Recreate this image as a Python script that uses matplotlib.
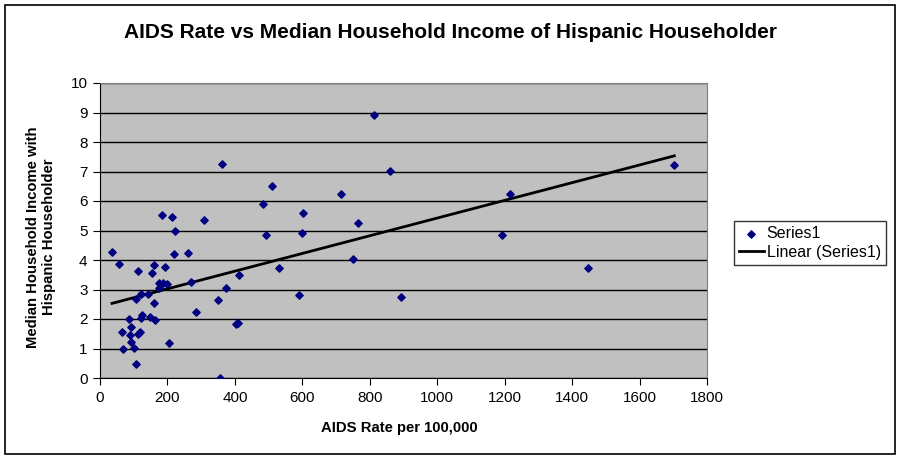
# AIDS rate vs median household income scatter with linear trendline
import numpy as np
import matplotlib.pyplot as plt
from matplotlib.patches import Rectangle

plt.rcParams['font.family'] = ['Liberation Sans', 'DejaVu Sans']

# Data
aids_rate = [35.7, 56.5, 113, 160.5, 154.6, 193, 184, 214, 223, 220,
             261.5, 308, 484, 511, 493, 532, 413, 374.5, 350.7, 356.6,
             404, 410, 205, 285, 269.6, 175, 187, 199, 175, 159.6,
             141.8, 121, 108, 125, 121, 148.6, 163.5, 86, 92, 65.4,
             89, 113, 120, 92, 68, 101, 107, 362.6, 814, 861,
             716, 603, 764, 600, 749, 591, 891.6, 1215.6, 1192, 1447,
             1703]
income = [4.26, 3.85, 3.62, 3.82, 3.55, 3.75, 5.51, 5.47, 4.97, 4.20,
          4.23, 5.34, 5.91, 6.52, 4.86, 3.72, 3.48, 3.04, 2.63, 0.0,
          1.82, 1.86, 1.19, 2.23, 3.24, 3.21, 3.21, 3.18, 3.04, 2.53,
          2.86, 2.86, 2.68, 2.14, 2.03, 2.07, 1.97, 1.99, 1.72, 1.55,
          1.46, 1.49, 1.55, 1.22, 0.98, 1.01, 0.48, 7.26, 8.93, 7.03,
          6.25, 5.61, 5.27, 4.93, 4.02, 2.80, 2.74, 6.25, 4.86, 3.72,
          7.23]

x = np.array(aids_rate)
y = np.array(income)

# Linear trend (like Excel's "Linear (Series1)")
slope, intercept = np.polyfit(x, y, 1)
trend_x = np.array([x.min(), x.max()])
trend_y = slope * trend_x + intercept

fig = plt.figure(figsize=(9.01, 4.59), dpi=100)
ax = fig.add_axes([100 / 901, 1 - 378 / 459, 607 / 901, 295 / 459])

ax.set_facecolor('#C0C0C0')
ax.scatter(x, y, marker='D', s=14, color='#000080', zorder=3, label='Series1')
ax.plot(trend_x, trend_y, color='black', linewidth=2, zorder=2, label='Linear (Series1)')

ax.set_xlim(0, 1800)
ax.set_ylim(0, 10)
ax.set_xticks(range(0, 1801, 200))
ax.set_yticks(range(0, 11))
ax.yaxis.grid(True, color='black', linewidth=1)
ax.set_axisbelow(True)
ax.tick_params(direction='out', length=5, labelsize=11, color='black', pad=4)

for side in ['top', 'right']:
    ax.spines[side].set_color('#808080')
for side in ['left', 'bottom']:
    ax.spines[side].set_color('black')

ax.set_xlabel('AIDS Rate per 100,000', fontsize=10.7, fontweight='bold', va='center')
ax.xaxis.set_label_coords((399 - 100) / 607, (378 - 428) / 295)
ax.set_ylabel('Median Household Income with\nHispanic Householder', fontsize=10.7,
              fontweight='bold', va='center')
ax.yaxis.set_label_coords((41 - 100) / 607, (378 - 237) / 295)

fig.text(450 / 901, 1 - 33 / 459, 'AIDS Rate vs Median Household Income of Hispanic Householder',
         ha='center', va='center', fontsize=15, fontweight='bold')

leg = fig.legend(loc='center left', bbox_to_anchor=(734 / 901, 1 - 243 / 459),
                 fontsize=11.5, frameon=True, fancybox=False, edgecolor='black',
                 handlelength=1.55, handletextpad=0.2, borderpad=0.3,
                 labelspacing=0.25, borderaxespad=0)
leg.get_frame().set_linewidth(1)

# outer chart border
fig.patches.append(Rectangle((5 / 901, 5 / 459), 890 / 901, 449 / 459,
                             transform=fig.transFigure, fill=False,
                             edgecolor='black', linewidth=1.2))

fig.savefig('out.png', dpi=100)
